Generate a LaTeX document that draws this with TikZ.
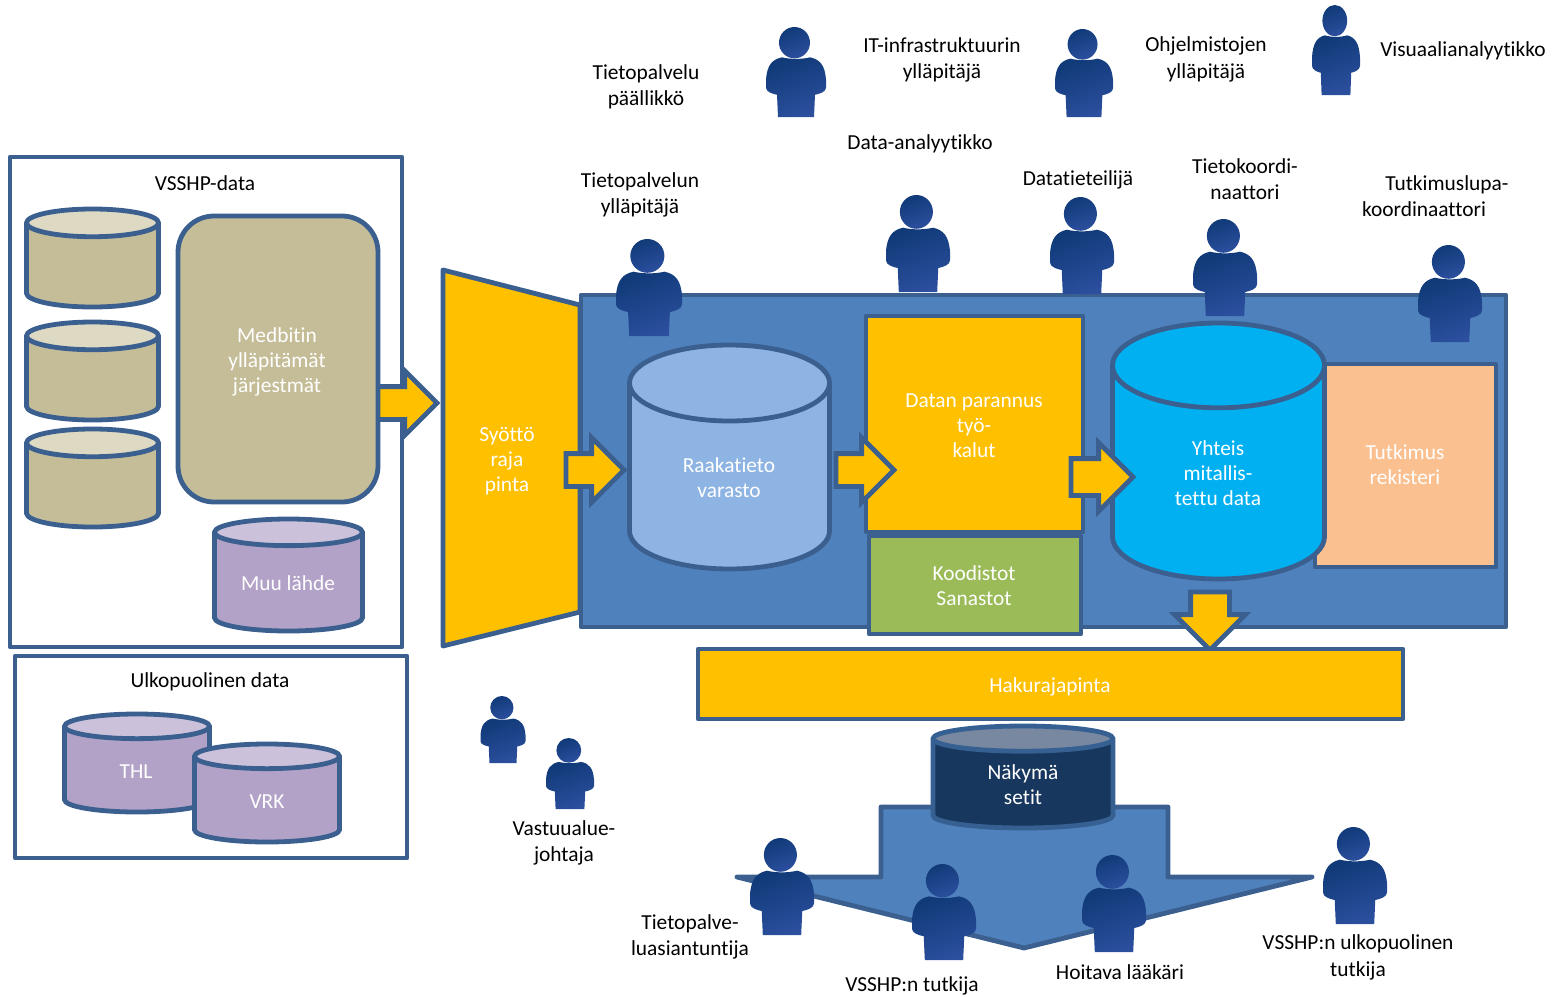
\documentclass[tikz,border=0pt]{standalone}
\usepackage{fontspec}
\setmainfont{Carlito}[Ligatures=NoCommon]
\usetikzlibrary{positioning, shapes.geometric, shapes.arrows}
\definecolor{lineblue}{HTML}{3B6090}
\definecolor{boxblue}{HTML}{4F81BD}
\definecolor{amber}{HTML}{FFC000}
\definecolor{tan}{HTML}{C4BD97}
\definecolor{tanlight}{HTML}{DDD9C3}
\definecolor{lilac}{HTML}{B2A2C7}
\definecolor{lilaclight}{HTML}{CCC1DA}
\definecolor{tutkfill}{HTML}{FAC090}
\definecolor{raakafill}{HTML}{8EB4E3}
\definecolor{koodifill}{HTML}{9BBB59}
\definecolor{yhteisfill}{HTML}{00B0F0}
\definecolor{nakymafill}{HTML}{17375E}
\definecolor{nakymatop}{HTML}{7788A0}
\definecolor{nakymaline}{HTML}{376092}
\definecolor{persondark}{HTML}{103A78}
\definecolor{personlight}{HTML}{2C4F9E}
\tikzset{
  x=0.5pt, y=-0.5pt,
  every node/.style={font=\fontsize{10.7}{12.5}\selectfont, align=center, inner sep=0pt, outer sep=0pt},
  box/.style={draw=lineblue, line width=2.4pt, line join=round},
  lbl/.style={text=white},
  tag/.style={font=\fontsize{10.7}{13.2}\selectfont},
  dbase/.style n args={3}{cylinder, shape border rotate=90, draw=lineblue, line width=2.4pt,
    cylinder uses custom fill, inner ysep=0pt, inner xsep=#1/2, minimum width=#1, minimum height=#2,
    shape aspect=#3, anchor=shape center},
  blockarrow/.style={single arrow, draw=lineblue, line width=2.4pt, fill=amber, inner xsep=0pt,
    inner ysep=7pt, single arrow head extend=8pt, single arrow tip angle=90, anchor=tip},
  person/.pic={
    \path[left color=persondark, right color=personlight, shading angle=20]
      (-30,52) .. controls (-29,38) and (-24,32) .. (-14,30)
      .. controls (-6,32) and (6,32) .. (14,30)
      .. controls (24,32) and (29,38) .. (30,52)
      -- (30,60) .. controls (30,64) and (24,66) .. (19,67)
      -- (18,89) -- (-18,89) -- (-19,67)
      .. controls (-24,66) and (-30,64) .. (-30,60) -- cycle;
    \path[left color=persondark, right color=personlight, shading angle=20]
      (-1.5,15.5) circle (15.5);
  },
}
\begin{document}
\begin{tikzpicture}
\useasboundingbox (0,0) rectangle (1560,997);

% left side
\node (vsshp) [box, fill=white, minimum width=196pt, minimum height=245pt, anchor=north west] at (10,157) {};
\node (ulko) [box, fill=white, minimum width=196pt, minimum height=101pt, anchor=north west] at (15,656) {};
\node at (205,183) {VSSHP-data};
\node at (210,682) {Ulkopuolinen data};
\node (db1) [dbase={66pt}{49pt}{0.21}, cylinder body fill=tan, cylinder end fill=tanlight] at (92.5,258) {};
\node (db2) [dbase={66pt}{49pt}{0.21}, cylinder body fill=tan, cylinder end fill=tanlight] at (92.5,371) {};
\node (db3) [dbase={66pt}{49pt}{0.21}, cylinder body fill=tan, cylinder end fill=tanlight] at (92.5,478) {};
\node (a1) [blockarrow, minimum height=31pt, minimum width=31pt] at (437,403) {};
\node (medbit) [box, fill=tan, rounded corners=18pt, minimum width=100pt, minimum height=143pt, anchor=north west] at (178,216) {};
\node[lbl] at (277,362) {Medbitin\\ylläpitämät\\järjestmät};
\node (muu) [dbase={74pt}{56pt}{0.18}, cylinder body fill=lilac, cylinder end fill=lilaclight] at (288.5,575) {};
\node[lbl] at (288,583) {Muu lähde};
\node (thl) [dbase={72.5pt}{49pt}{0.17}, cylinder body fill=lilac, cylinder end fill=lilaclight] at (137,763) {};
\node[lbl] at (136,772) {THL};
\node (vrk) [dbase={72.5pt}{49pt}{0.17}, cylinder body fill=lilac, cylinder end fill=lilaclight] at (267,793) {};
\node[lbl] at (267,802) {VRK};

% main area
\node (main) [box, fill=boxblue, minimum width=462.5pt, minimum height=166pt, anchor=north west] at (581,295) {};
\draw[box, fill=amber] (443,270) -- (580,305) -- (580,612) -- (443,646) -- cycle;
\node[lbl] (syotto) at (507,461.5) {Syöttö\\raja\\pinta};
\node (tutk) [box, fill=tutkfill, minimum width=90.5pt, minimum height=101.5pt, anchor=north west] at (1315,364) {};
\node[lbl] at (1405,465) {Tutkimus\\rekisteri};
\node (raaka) [dbase={100pt}{112pt}{0.38}, cylinder body fill=raakafill, cylinder end fill=raakafill] at (729.5,457) {};
\node[lbl] at (729,477.5) {Raakatieto\\varasto};
\node (datan) [box, fill=amber, minimum width=108.5pt, minimum height=108pt, anchor=north west] at (866,316) {};
\node[lbl] at (974,426) {Datan parannus\\työ-\\kalut};
\node (koodi) [box, fill=koodifill, minimum width=106pt, minimum height=49pt, anchor=north west] at (869,536) {};
\node[lbl] at (974,586) {Koodistot\\Sanastot};
\node (yhteis) [dbase={106pt}{128pt}{0.4}, cylinder body fill=yhteisfill, cylinder end fill=yhteisfill] at (1218.5,451) {};
\node[lbl] at (1218,473) {Yhteis\\mitallis-\\tettu data};
\node (a2) [blockarrow, minimum height=29pt, minimum width=30pt] at (624,470) {};
\node (a3) [blockarrow, minimum height=29pt, minimum width=30pt] at (894,470) {};
\node (a4) [blockarrow, inner ysep=8pt, minimum height=31pt, minimum width=32pt] at (1133,477) {};
\node (a5) [blockarrow, rotate=-90, inner ysep=8.5pt, minimum height=29pt, minimum width=34pt] at (1210,650) {};
\node (haku) [box, fill=amber, minimum width=352.5pt, minimum height=35pt, anchor=north west] at (698,649) {};
\node[lbl] at (1050,687) {Hakurajapinta};

% bottom
\draw[draw=lineblue, line width=2.4pt, line join=round, fill=boxblue] (737,877) -- (881,877) -- (881,807) -- (1168,807) -- (1168,877) -- (1312,877) -- (1024,948) -- cycle;
\node (nakyma) [dbase={90pt}{51pt}{0.14}, draw=nakymaline, cylinder body fill=nakymafill, cylinder end fill=nakymatop] at (1023,777) {};
\node[lbl] at (1023,785) {Näkymä\\setit};

% people
\foreach \px/\py/\pw/\ph in {796/27/60/90, 1084/29/58/88, 1336/5/48/90, 649/239/66/97,
    918/195/64/97, 1082/197/64/97, 1225/219/64/97, 1450/245/64/97, 503/696/45/67,
    570/738/48/71, 782/838/64/97, 944/864/64/96, 1114/855/64/97, 1355/827/64/97}
  \pic[xscale=\pw/60, yscale=\ph/89] at (\px,\py) {person};

% labels
\node[tag] at (646,86.5) {Tietopalvelu\\päällikkö};
\node[tag] at (942,60) {IT-infrastruktuurin\\ylläpitäjä};
\node[tag] at (1206,59.5) {Ohjelmistojen\\ylläpitäjä};
\node[tag] at (1463,51) {Visuaalianalyytikko};
\node[tag] at (920,144) {Data-analyytikko};
\node[tag] at (640,195) {Tietopalvelun\\ylläpitäjä};
\node[tag] at (1078,180) {Datatieteilijä};
\node[tag] at (1245,179) {Tietokoordi-\\naattori};
\node[tag] at (1424,196) {\hspace*{23pt}Tutkimuslupa-\\koordinaattori};
\node[tag] at (564,843) {Vastuualue-\\johtaja};
\node[tag] at (690,937) {Tietopalve-\\luasiantuntija};
\node[tag] at (912,986) {VSSHP:n tutkija};
\node[tag] at (1120,972) {Hoitava lääkäri};
\node[tag] at (1358,957.5) {VSSHP:n ulkopuolinen\\tutkija};
\end{tikzpicture}
\end{document}
